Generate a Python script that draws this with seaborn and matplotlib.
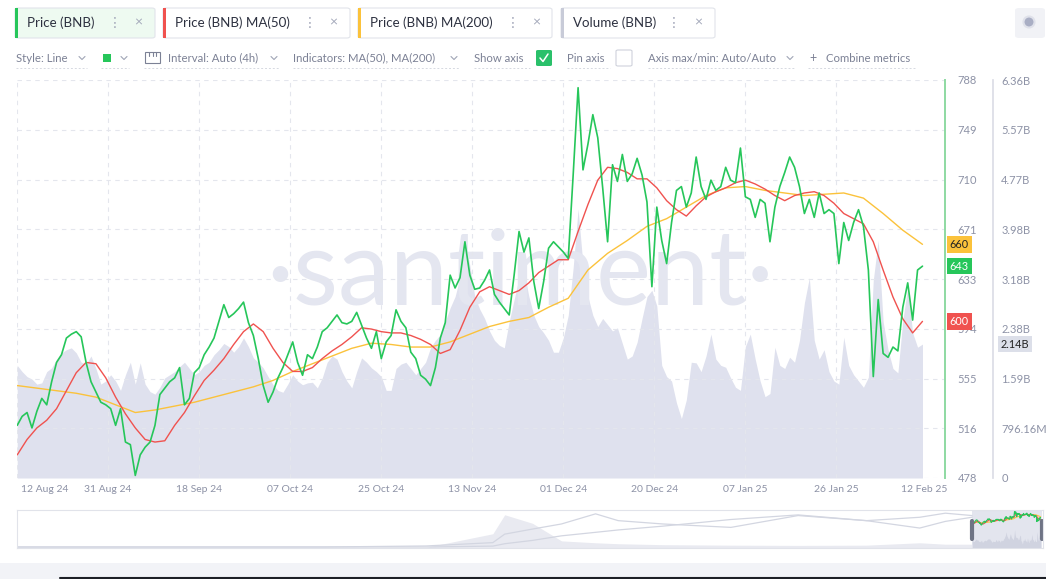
import numpy as np
import pandas as pd
import matplotlib
matplotlib.use("Agg")
import matplotlib.pyplot as plt
import matplotlib.dates as mdates
import seaborn as sns
from matplotlib.patches import FancyBboxPatch, Rectangle, Ellipse
from matplotlib.lines import Line2D

sns.set_theme(style="white")
plt.rcParams["font.family"] = ["Lato", "DejaVu Sans"]

# BNB price, one value per day from 12 Aug 24
price = [519, 526, 529, 517, 530, 540, 535, 553, 568, 574,
         587, 590, 592, 588, 568, 553, 545, 537, 535, 532,
         519, 532, 506, 504, 480, 496, 502, 506, 519, 543,
         548, 553, 556, 564, 535, 540, 560, 564, 574, 580,
         587, 600, 613, 603, 606, 610, 615, 599, 589, 571,
         550, 537, 545, 556, 564, 574, 584, 568, 558, 574,
         571, 580, 592, 595, 600, 605, 599, 598, 600, 607,
         597, 587, 579, 592, 571, 584, 589, 609, 600, 595,
         576, 571, 558, 555, 550, 564, 587, 599, 636, 626,
         634, 662, 636, 625, 626, 632, 640, 621, 615, 610,
         605, 636, 670, 654, 665, 631, 610, 631, 657, 662,
         658, 654, 649, 714, 782, 718, 738, 761, 743, 704,
         662, 722, 709, 730, 709, 715, 727, 714, 693, 627,
         689, 663, 645, 677, 702, 705, 689, 700, 728, 705,
         695, 710, 702, 705, 720, 710, 708, 735, 697, 695,
         681, 695, 692, 662, 689, 705, 716, 728, 720, 705,
         684, 695, 681, 700, 684, 687, 684, 645, 677, 663,
         677, 687, 674, 640, 557, 617, 575, 572, 580, 577,
         611, 630, 601, 640, 643]

# MA(50), every 2 days
ma50 = [496, 508, 517, 523, 532, 546, 560, 568, 567, 556,
        541, 528, 517, 508, 506, 507, 519, 529, 542, 554,
        562, 571, 582, 592, 598, 592, 579, 568, 561, 561,
        564, 571, 577, 582, 588, 595, 594, 592, 591, 591,
        589, 586, 582, 575, 578, 593, 611, 623, 627, 624,
        621, 624, 630, 638, 643, 648, 648, 670, 691, 710,
        720, 719, 716, 711, 711, 704, 694, 687, 682, 690,
        697, 701, 704, 708, 710, 707, 703, 698, 694, 698,
        700, 701, 698, 692, 684, 680, 676, 662, 640, 619,
        602, 591, 600]

# MA(200), every 4 days
ma200 = [550, 548, 546, 544, 541, 535, 529, 531, 534, 537,
         541, 545, 549, 554, 561, 567, 573, 579, 583, 582,
         580, 580, 584, 590, 596, 600, 603, 611, 618, 640,
         653, 663, 674, 680, 689, 698, 704, 705, 702, 700,
         698, 699, 700, 696, 684, 671, 660]

# Volume in billions, one value per day
volume_b = [1.80, 1.70, 1.62, 1.58, 1.50, 1.52, 1.70, 1.76, 1.90, 2.00,
            2.05, 2.08, 2.00, 1.85, 1.82, 1.95, 1.75, 1.50, 1.55, 1.65,
            1.55, 1.40, 1.65, 1.85, 1.50, 1.84, 1.50, 1.38, 1.34, 1.45,
            1.60, 1.65, 1.70, 1.78, 1.85, 1.75, 1.65, 1.70, 1.80, 1.85,
            1.97, 2.05, 2.15, 2.10, 2.01, 2.10, 2.24, 2.10, 1.92, 1.85,
            1.76, 1.62, 1.49, 1.40, 1.37, 1.50, 1.65, 1.55, 1.49, 1.52,
            1.53, 1.44, 1.60, 1.85, 1.95, 1.90, 1.70, 1.55, 1.44, 1.70,
            1.92, 1.85, 1.76, 1.70, 1.62, 1.40, 1.40, 1.75, 1.82, 1.85,
            1.75, 1.65, 1.75, 1.85, 2.08, 2.20, 2.29, 2.50, 2.72, 2.90,
            3.20, 3.80, 3.40, 2.90, 2.70, 2.55, 2.35, 2.20, 2.12, 2.08,
            2.50, 2.85, 3.20, 3.30, 2.90, 2.60, 2.42, 2.32, 2.20, 2.01,
            2.01, 2.24, 2.60, 3.36, 4.30, 3.40, 2.90, 2.60, 2.42, 2.55,
            2.45, 2.35, 2.40, 2.15, 1.90, 1.95, 2.17, 2.55, 2.90, 3.00,
            2.75, 1.80, 1.62, 1.55, 1.20, 0.95, 1.25, 1.85, 1.84, 1.70,
            1.95, 2.30, 1.90, 1.80, 1.77, 1.60, 1.45, 1.40, 2.10, 2.30,
            1.90, 1.55, 1.30, 1.35, 2.09, 1.80, 1.75, 1.93, 1.85, 2.20,
            2.80, 3.20, 2.20, 1.90, 2.05, 1.70, 1.55, 1.50, 2.25, 1.80,
            1.65, 1.55, 1.45, 1.61, 3.16, 3.80, 2.50, 2.05, 1.75, 1.68,
            2.52, 3.05, 2.32, 2.09, 2.14]

price_ticks = ["478", "516", "555", "594", "633", "671", "710", "749", "788"]
volume_ticks = ["0", "796.16M", "1.59B", "2.38B", "3.18B", "3.98B", "4.77B", "5.57B", "6.36B"]

# long history shown in the navigator strip
nav_dates = ["2017-07-25", "2019-11-01", "2020-08-01", "2021-01-28", "2021-03-01",
             "2021-05-15", "2021-08-01", "2021-11-01", "2022-01-01", "2022-05-01",
             "2022-11-01", "2023-05-01", "2023-11-01", "2024-03-24", "2024-06-01",
             "2024-08-12"]
nav_line_a = [21, 21, 43, 113, 292, 399, 506, 719, 576, 506, 434, 683, 576, 647, 733, 683]
nav_line_b = [21, 21, 21, 40, 90, 160, 256, 330, 380, 460, 600, 697, 576, 420, 560, 647]
nav_volume = [0, 5, 15, 300, 700, 520, 150, 110, 90, 70, 60, 55, 60, 110, 80, 80]

GREEN = "#26c65a"
RED = "#f0524f"
YELLOW = "#fbc23b"
VOL = "#dfe1ee"
GRAY_TXT = "#8d92a6"

start = pd.Timestamp("2024-08-12 20:00")
dates = pd.date_range(start, periods=len(price), freq="D")
dates_ma50 = pd.date_range(start, periods=len(ma50), freq="2D")
dates_ma200 = pd.date_range(start, periods=len(ma200), freq="4D")
x_left = pd.Timestamp("2024-08-12 19:00")
x_right = x_left + pd.Timedelta(days=928 / 4.92)

W, H = 1046, 579
def fx(x):
    return x / W
def fy(y):
    return 1 - y / H

fig = plt.figure(figsize=(W / 100, H / 100), dpi=100)
fig.patch.set_facecolor("white")

ax = fig.add_axes([fx(17), fy(478), fx(945) - fx(17), (478 - 80) / H])
axv = ax.twinx()
ax.set_zorder(3)
axv.set_zorder(2)
ax.patch.set_visible(False)

# volume
axv.fill_between(dates, 0, np.array(volume_b) * 1e9, color=VOL, lw=0)
axv.set_ylim(0, 6.36e9)
axv.set_yticks(np.linspace(0, 6.36e9, 9))
axv.set_yticklabels(volume_ticks)
for s in ["top", "left", "bottom"]:
    axv.spines[s].set_visible(False)
axv.spines["right"].set_position(("outward", 34.5))
axv.spines["right"].set_color("#dcdde6")
axv.tick_params(axis="y", length=0, pad=6, labelsize=8, labelcolor=GRAY_TXT)

# watermark
ax.text(0.542, 0.435, "·santiment·", transform=ax.transAxes, ha="center",
        va="baseline", fontsize=75, color="#e4e6f0", zorder=0)

# price and moving averages
sns.lineplot(x=dates_ma200, y=ma200, ax=ax, color=YELLOW, linewidth=1.0)
sns.lineplot(x=dates_ma50, y=ma50, ax=ax, color=RED, linewidth=1.0)
sns.lineplot(x=dates, y=price, ax=ax, color=GREEN, linewidth=1.2)

ax.set_xlim(x_left, x_right)
ax.set_ylim(478, 788)
ax.set_xlabel("")
ax.set_ylabel("")
ax.yaxis.tick_right()
ax.set_yticks(np.linspace(478, 788, 9))
ax.set_yticklabels(price_ticks)
ax.tick_params(axis="y", length=0, pad=9, labelsize=8, labelcolor=GRAY_TXT)

ticks = [x_left + pd.Timedelta(days=18.5 * k) for k in range(10)]
ax.set_xticks(mdates.date2num(ticks))
ax.set_xticklabels([""] + [t.strftime("%d %b %y") for t in ticks[1:]])
ax.tick_params(axis="x", length=0, pad=5, labelsize=7.5, labelcolor=GRAY_TXT)
ax.annotate(dates[0].strftime("%d %b %y"), xy=(mdates.date2num(dates[0]), 0),
            xycoords=("data", "axes fraction"), xytext=(3, -5), textcoords="offset points",
            ha="left", va="top", fontsize=7.5, color=GRAY_TXT)
ax.annotate(dates[-1].strftime("%d %b %y"), xy=(mdates.date2num(dates[-1]), 0),
            xycoords=("data", "axes fraction"), xytext=(1, -5), textcoords="offset points",
            ha="center", va="top", fontsize=7.5, color=GRAY_TXT)

ax.grid(True, color="#e4e6ed", linestyle=(0, (4, 4)), linewidth=0.8)
for s in ["top", "left", "bottom"]:
    ax.spines[s].set_visible(False)
ax.spines["right"].set_color("#8ed9a2")
ax.spines["right"].set_linewidth(1.4)

# last-value badges
def badge(axis, text, value, fc, tc, dx):
    axis.annotate(text, xy=(1, value), xycoords=("axes fraction", "data"),
                  xytext=(dx, 0), textcoords="offset points", ha="left", va="center",
                  fontsize=7.8, color=tc, zorder=10, annotation_clip=False,
                  bbox=dict(boxstyle="square,pad=0.25", fc=fc, ec="none"))

badge(ax, f"{ma200[-1]:.0f}", ma200[-1], YELLOW, "#222222", 3.5)
badge(ax, f"{price[-1]:.0f}", price[-1], GREEN, "white", 3.5)
badge(ax, f"{ma50[-1]:.0f}", ma50[-1], RED, "white", 3.5)
badge(axv, f"{volume_b[-1]:.2f}B", volume_b[-1] * 1e9, "#dcdfe9", "#222222", 40)

# navigator strip
axn = fig.add_axes([fx(17), fy(548), fx(1043) - fx(17), (548 - 510) / H])
nd = pd.to_datetime(nav_dates)
axn.fill_between(nd, 0, nav_volume, color="#e9eaf1", lw=0)
axn.plot(nd, nav_line_a, color="#d3d6e1", lw=0.9)
axn.plot(nd, nav_line_b, color="#d3d6e1", lw=0.9)
axn.axvspan(dates[0], x_right, color="#e3e5ee", lw=0)
axn.fill_between(dates, 0, np.array(volume_b) * 90, color="#d0d3e0", lw=0)
axn.plot(dates_ma200, ma200, color=YELLOW, lw=0.8)
axn.plot(dates_ma50, ma50, color=RED, lw=0.8)
axn.plot(dates, price, color=GREEN, lw=0.8)
axn.axvline(dates[0], ymin=0.25, ymax=0.72, color="#6f7485", lw=3)
axn.axvline(x_right, ymin=0.25, ymax=0.72, color="#6f7485", lw=3)
axn.set_xlim(pd.Timestamp("2017-07-25"), x_right + pd.Timedelta(days=2))
axn.set_ylim(0, 800)
axn.set_xticks([])
axn.set_yticks([])
for s in axn.spines.values():
    s.set_color("#e1e3ea")
    s.set_linewidth(0.8)

# legend chips
def chip(x0, x1, label, accent, bg, dots_x, x_x):
    fig.patches.append(FancyBboxPatch((fx(x0), fy(38)), fx(x1) - fx(x0), fy(8) - fy(38),
                                      boxstyle="round,pad=0,rounding_size=0.003",
                                      transform=fig.transFigure, fc=bg, ec="#e1e4ea", lw=0.8))
    fig.patches.append(Rectangle((fx(x0), fy(38)), 3 / W, 30 / H, transform=fig.transFigure,
                                 fc=accent, ec="none"))
    fig.text(fx(x0 + 12), fy(23), label, fontsize=9.6, color="#2d3140", va="center")
    fig.text(fx(dots_x), fy(23), "⋮", fontsize=10, color="#a3a8ba", va="center", ha="center",
             family=["DejaVu Sans"])
    fig.text(fx(x_x), fy(22.5), "×", fontsize=10, color="#a3a8ba", va="center", ha="center")

chip(15, 155, "Price (BNB)", GREEN, "#eefaf1", 115, 138)
chip(163, 350, "Price (BNB) MA(50)", RED, "white", 310, 333)
chip(358, 552, "Price (BNB) MA(200)", YELLOW, "white", 513, 536)
chip(561, 715, "Volume (BNB)", "#c8cbd8", "white", 674, 698)

fig.patches.append(FancyBboxPatch((fx(1015), fy(38)), fx(1045) - fx(1015), fy(8) - fy(38),
                                  boxstyle="round,pad=0,rounding_size=0.004",
                                  transform=fig.transFigure, fc="#f1f2f6", ec="none"))
fig.patches.append(Ellipse((fx(1029), fy(22)), 11 / W, 11 / H, transform=fig.transFigure,
                           fc="#a9aec4", ec="#dfe1ea", lw=1.5))

# toolbar row
TB = "#7c8195"
def chevron(x, y):
    fig.add_artist(Line2D([fx(x - 3), fx(x), fx(x + 3)], [fy(y - 1.5), fy(y + 1.5), fy(y - 1.5)],
                          transform=fig.transFigure, color="#a0a5b6", lw=0.8))

def underline(a, b):
    fig.add_artist(Line2D([fx(a), fx(b)], [fy(68), fy(68)], transform=fig.transFigure,
                          color="#d6d9e1", lw=0.7, linestyle=(0, (2, 2))))

ty = 58
fig.text(fx(16), fy(ty), "Style: Line", fontsize=8.2, color=TB, va="center")
chevron(82, ty)
underline(16, 87)
fig.patches.append(Rectangle((fx(103), fy(62)), 8 / W, 8 / H, transform=fig.transFigure,
                             fc=GREEN, ec="none"))
chevron(124, ty)
underline(101, 129)
fig.patches.append(Rectangle((fx(145), fy(63)), 15 / W, 11 / H, transform=fig.transFigure,
                             fc="none", ec="#7c8195", lw=0.8))
for tx in (149, 152.5, 156):
    fig.add_artist(Line2D([fx(tx), fx(tx)], [fy(52), fy(56)], transform=fig.transFigure,
                          color="#7c8195", lw=0.8))
fig.text(fx(168), fy(ty), "Interval: Auto (4h)", fontsize=8.2, color=TB, va="center")
chevron(274, ty)
underline(144, 279)
fig.text(fx(293), fy(ty), "Indicators: MA(50), MA(200)", fontsize=8.2, color=TB, va="center")
chevron(454, ty)
underline(293, 459)
fig.text(fx(474), fy(ty), "Show axis", fontsize=8.2, color=TB, va="center")
fig.patches.append(FancyBboxPatch((fx(536), fy(66)), 16 / W, 16 / H,
                                  boxstyle="round,pad=0,rounding_size=0.002",
                                  transform=fig.transFigure, fc="#2ac06a", ec="none"))
fig.add_artist(Line2D([fx(540), fx(543), fx(548)], [fy(58), fy(61.5), fy(54)],
                      transform=fig.transFigure, color="white", lw=1.1))
underline(474, 530)
fig.text(fx(567), fy(ty), "Pin axis", fontsize=8.2, color=TB, va="center")
fig.patches.append(FancyBboxPatch((fx(616), fy(66)), 16 / W, 16 / H,
                                  boxstyle="round,pad=0,rounding_size=0.002",
                                  transform=fig.transFigure, fc="white", ec="#cfd2dc", lw=0.8))
underline(567, 610)
fig.text(fx(648), fy(ty), "Axis max/min: Auto/Auto", fontsize=8.2, color=TB, va="center")
chevron(790, ty)
underline(648, 795)
fig.text(fx(813), fy(ty), "+", fontsize=9, color=TB, va="center", ha="center")
fig.text(fx(826), fy(ty), "Combine metrics", fontsize=8.2, color=TB, va="center")
underline(808, 916)

# page footer band
fig.patches.append(Rectangle((0, 0), 1, 16 / H, transform=fig.transFigure, fc="#f2f3f7", ec="none"))
fig.add_artist(Line2D([fx(60), 1], [fy(578), fy(578)], transform=fig.transFigure,
                      color="#1d1f26", lw=1.5))

fig.savefig("out.png", dpi=100)
